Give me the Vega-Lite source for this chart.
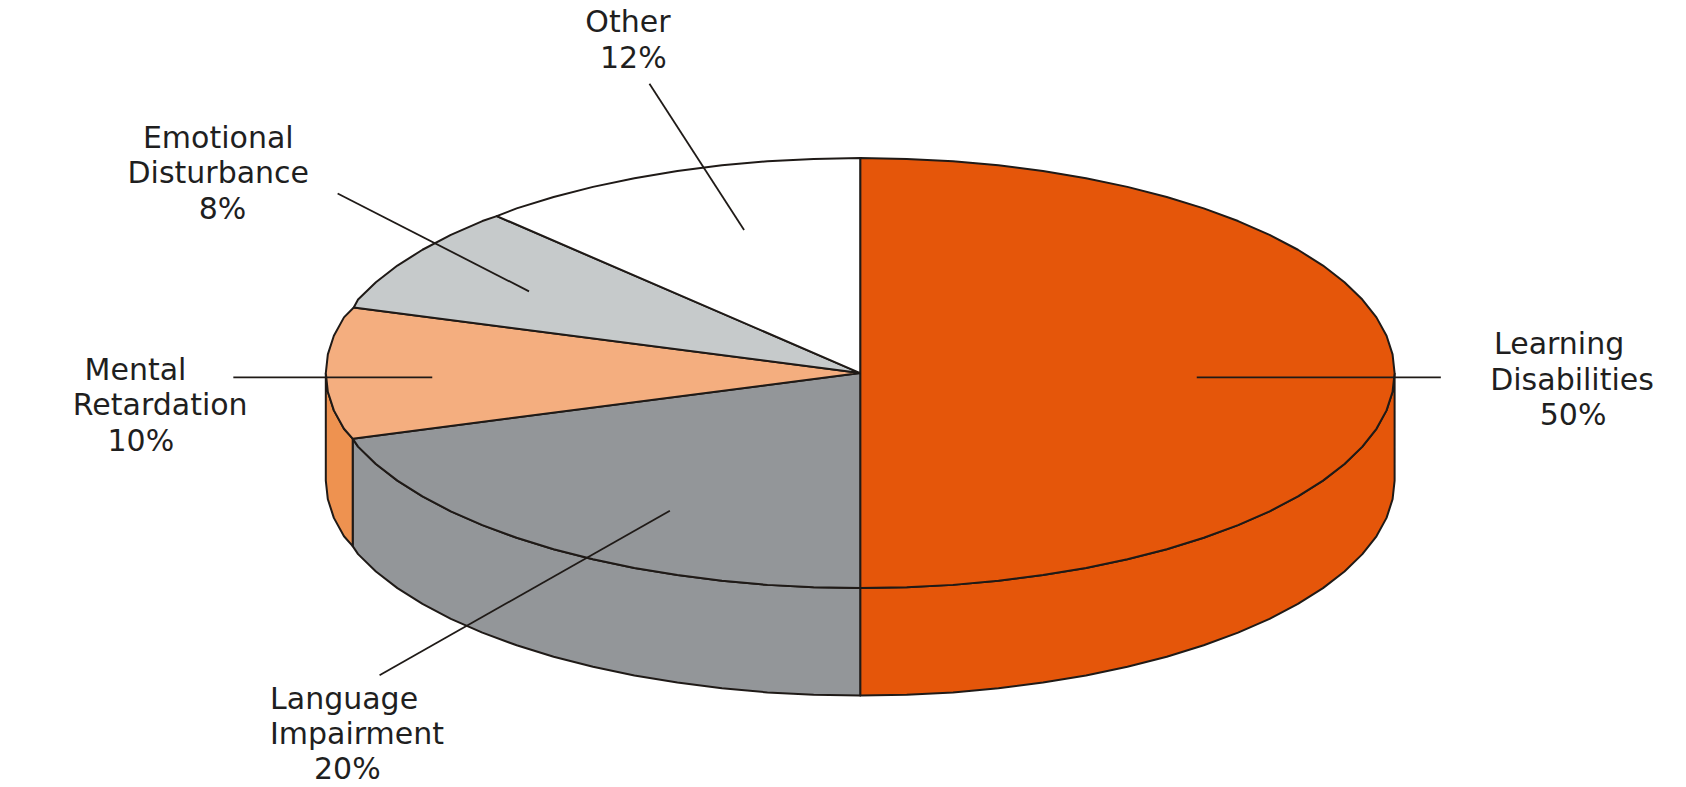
{"$schema":"https://vega.github.io/schema/vega-lite/v6.json","width":1686,"height":787,"padding":0,"autosize":{"type":"none"},"background":"#ffffff","config":{"view":{"stroke":null}},
"datasets":{
"side":[
{"p":"Learning Disabilities","x":1297,"y":347},{"p":"Learning Disabilities","x":1295.1,"y":364.4},{"p":"Learning Disabilities","x":1289.5,"y":381.7},{"p":"Learning Disabilities","x":1280.1,"y":398.8},{"p":"Learning Disabilities","x":1267,"y":415.4},{"p":"Learning Disabilities","x":1250.4,"y":431.5},{"p":"Learning Disabilities","x":1230.4,"y":447},{"p":"Learning Disabilities","x":1207.1,"y":461.7},{"p":"Learning Disabilities","x":1180.7,"y":475.6},{"p":"Learning Disabilities","x":1151.4,"y":488.4},{"p":"Learning Disabilities","x":1119.5,"y":500.2},{"p":"Learning Disabilities","x":1085.1,"y":510.8},{"p":"Learning Disabilities","x":1048.5,"y":520.2},{"p":"Learning Disabilities","x":1010,"y":528.3},{"p":"Learning Disabilities","x":970,"y":534.9},{"p":"Learning Disabilities","x":928.6,"y":540.2},{"p":"Learning Disabilities","x":886.3,"y":544},{"p":"Learning Disabilities","x":843.3,"y":546.2},{"p":"Learning Disabilities","x":800,"y":547},
{"p":"Learning Disabilities","x":800,"y":647},{"p":"Learning Disabilities","x":843.3,"y":646.2},{"p":"Learning Disabilities","x":886.3,"y":644},{"p":"Learning Disabilities","x":928.6,"y":640.2},{"p":"Learning Disabilities","x":970,"y":634.9},{"p":"Learning Disabilities","x":1010,"y":628.3},{"p":"Learning Disabilities","x":1048.5,"y":620.2},{"p":"Learning Disabilities","x":1085.1,"y":610.8},{"p":"Learning Disabilities","x":1119.5,"y":600.2},{"p":"Learning Disabilities","x":1151.4,"y":588.4},{"p":"Learning Disabilities","x":1180.7,"y":575.6},{"p":"Learning Disabilities","x":1207.1,"y":561.7},{"p":"Learning Disabilities","x":1230.4,"y":547},{"p":"Learning Disabilities","x":1250.4,"y":531.5},{"p":"Learning Disabilities","x":1267,"y":515.4},{"p":"Learning Disabilities","x":1280.1,"y":498.8},{"p":"Learning Disabilities","x":1289.5,"y":481.7},{"p":"Learning Disabilities","x":1295.1,"y":464.4},{"p":"Learning Disabilities","x":1297,"y":447},{"p":"Learning Disabilities","x":1297,"y":347},
{"p":"Language Impairment","x":800,"y":547},{"p":"Language Impairment","x":756.7,"y":546.2},{"p":"Language Impairment","x":713.7,"y":544},{"p":"Language Impairment","x":671.4,"y":540.2},{"p":"Language Impairment","x":630,"y":534.9},{"p":"Language Impairment","x":590,"y":528.3},{"p":"Language Impairment","x":551.5,"y":520.2},{"p":"Language Impairment","x":514.9,"y":510.8},{"p":"Language Impairment","x":480.5,"y":500.2},{"p":"Language Impairment","x":448.6,"y":488.4},{"p":"Language Impairment","x":419.3,"y":475.6},{"p":"Language Impairment","x":392.9,"y":461.7},{"p":"Language Impairment","x":369.6,"y":447},{"p":"Language Impairment","x":349.6,"y":431.5},{"p":"Language Impairment","x":333,"y":415.4},{"p":"Language Impairment","x":328,"y":408},
{"p":"Language Impairment","x":328,"y":508},{"p":"Language Impairment","x":333,"y":515.4},{"p":"Language Impairment","x":349.6,"y":531.5},{"p":"Language Impairment","x":369.6,"y":547},{"p":"Language Impairment","x":392.9,"y":561.7},{"p":"Language Impairment","x":419.3,"y":575.6},{"p":"Language Impairment","x":448.6,"y":588.4},{"p":"Language Impairment","x":480.5,"y":600.2},{"p":"Language Impairment","x":514.9,"y":610.8},{"p":"Language Impairment","x":551.5,"y":620.2},{"p":"Language Impairment","x":590,"y":628.3},{"p":"Language Impairment","x":630,"y":634.9},{"p":"Language Impairment","x":671.4,"y":640.2},{"p":"Language Impairment","x":713.7,"y":644},{"p":"Language Impairment","x":756.7,"y":646.2},{"p":"Language Impairment","x":800,"y":647},{"p":"Language Impairment","x":800,"y":547},
{"p":"Mental Retardation side","x":303,"y":347},{"p":"Mental Retardation side","x":304.9,"y":364.4},{"p":"Mental Retardation side","x":310.5,"y":381.7},{"p":"Mental Retardation side","x":319.9,"y":398.8},{"p":"Mental Retardation side","x":328,"y":408},{"p":"Mental Retardation side","x":328,"y":508},{"p":"Mental Retardation side","x":319.9,"y":498.8},{"p":"Mental Retardation side","x":310.5,"y":481.7},{"p":"Mental Retardation side","x":304.9,"y":464.4},{"p":"Mental Retardation side","x":303,"y":447},{"p":"Mental Retardation side","x":303,"y":347}
],
"face":[
{"p":"Learning Disabilities","x":800,"y":347},{"p":"Learning Disabilities","x":800,"y":147},{"p":"Learning Disabilities","x":843.3,"y":147.8},{"p":"Learning Disabilities","x":886.3,"y":150},{"p":"Learning Disabilities","x":928.6,"y":153.8},{"p":"Learning Disabilities","x":970,"y":159.1},{"p":"Learning Disabilities","x":1010,"y":165.7},{"p":"Learning Disabilities","x":1048.5,"y":173.8},{"p":"Learning Disabilities","x":1085.1,"y":183.2},{"p":"Learning Disabilities","x":1119.5,"y":193.8},{"p":"Learning Disabilities","x":1151.4,"y":205.6},{"p":"Learning Disabilities","x":1180.7,"y":218.4},{"p":"Learning Disabilities","x":1207.1,"y":232.3},{"p":"Learning Disabilities","x":1230.4,"y":247},{"p":"Learning Disabilities","x":1250.4,"y":262.5},{"p":"Learning Disabilities","x":1267,"y":278.6},{"p":"Learning Disabilities","x":1280.1,"y":295.2},{"p":"Learning Disabilities","x":1289.5,"y":312.3},{"p":"Learning Disabilities","x":1295.1,"y":329.6},{"p":"Learning Disabilities","x":1297,"y":347},{"p":"Learning Disabilities","x":1295.1,"y":364.4},{"p":"Learning Disabilities","x":1289.5,"y":381.7},{"p":"Learning Disabilities","x":1280.1,"y":398.8},{"p":"Learning Disabilities","x":1267,"y":415.4},{"p":"Learning Disabilities","x":1250.4,"y":431.5},{"p":"Learning Disabilities","x":1230.4,"y":447},{"p":"Learning Disabilities","x":1207.1,"y":461.7},{"p":"Learning Disabilities","x":1180.7,"y":475.6},{"p":"Learning Disabilities","x":1151.4,"y":488.4},{"p":"Learning Disabilities","x":1119.5,"y":500.2},{"p":"Learning Disabilities","x":1085.1,"y":510.8},{"p":"Learning Disabilities","x":1048.5,"y":520.2},{"p":"Learning Disabilities","x":1010,"y":528.3},{"p":"Learning Disabilities","x":970,"y":534.9},{"p":"Learning Disabilities","x":928.6,"y":540.2},{"p":"Learning Disabilities","x":886.3,"y":544},{"p":"Learning Disabilities","x":843.3,"y":546.2},{"p":"Learning Disabilities","x":800,"y":547},{"p":"Learning Disabilities","x":800,"y":347},
{"p":"Language Impairment","x":800,"y":347},{"p":"Language Impairment","x":800,"y":547},{"p":"Language Impairment","x":756.7,"y":546.2},{"p":"Language Impairment","x":713.7,"y":544},{"p":"Language Impairment","x":671.4,"y":540.2},{"p":"Language Impairment","x":630,"y":534.9},{"p":"Language Impairment","x":590,"y":528.3},{"p":"Language Impairment","x":551.5,"y":520.2},{"p":"Language Impairment","x":514.9,"y":510.8},{"p":"Language Impairment","x":480.5,"y":500.2},{"p":"Language Impairment","x":448.6,"y":488.4},{"p":"Language Impairment","x":419.3,"y":475.6},{"p":"Language Impairment","x":392.9,"y":461.7},{"p":"Language Impairment","x":369.6,"y":447},{"p":"Language Impairment","x":349.6,"y":431.5},{"p":"Language Impairment","x":333,"y":415.4},{"p":"Language Impairment","x":328,"y":408},{"p":"Language Impairment","x":800,"y":347},
{"p":"Mental Retardation","x":800,"y":347},{"p":"Mental Retardation","x":328,"y":408},{"p":"Mental Retardation","x":319.9,"y":398.8},{"p":"Mental Retardation","x":310.5,"y":381.7},{"p":"Mental Retardation","x":304.9,"y":364.4},{"p":"Mental Retardation","x":303,"y":347},{"p":"Mental Retardation","x":304.9,"y":329.6},{"p":"Mental Retardation","x":310.5,"y":312.3},{"p":"Mental Retardation","x":319.9,"y":295.2},{"p":"Mental Retardation","x":329,"y":286},{"p":"Mental Retardation","x":800,"y":347},
{"p":"Emotional Disturbance","x":800,"y":347},{"p":"Emotional Disturbance","x":329,"y":286},{"p":"Emotional Disturbance","x":333,"y":278.6},{"p":"Emotional Disturbance","x":349.6,"y":262.5},{"p":"Emotional Disturbance","x":369.6,"y":247},{"p":"Emotional Disturbance","x":392.9,"y":232.3},{"p":"Emotional Disturbance","x":419.3,"y":218.4},{"p":"Emotional Disturbance","x":448.6,"y":205.6},{"p":"Emotional Disturbance","x":462,"y":201},{"p":"Emotional Disturbance","x":800,"y":347},
{"p":"Other","x":800,"y":347},{"p":"Other","x":462,"y":201},{"p":"Other","x":480.5,"y":193.8},{"p":"Other","x":514.9,"y":183.2},{"p":"Other","x":551.5,"y":173.8},{"p":"Other","x":590,"y":165.7},{"p":"Other","x":630,"y":159.1},{"p":"Other","x":671.4,"y":153.8},{"p":"Other","x":713.7,"y":150},{"p":"Other","x":756.7,"y":147.8},{"p":"Other","x":800,"y":147},{"p":"Other","x":800,"y":347}
],
"leaders":[
{"k":"Other","x":604,"y":78},{"k":"Other","x":692,"y":214},
{"k":"Emotional","x":314,"y":180},{"k":"Emotional","x":492,"y":271},
{"k":"Mental","x":217,"y":351},{"k":"Mental","x":402,"y":351},
{"k":"Language","x":353,"y":628},{"k":"Language","x":623,"y":475},
{"k":"Learning","x":1113,"y":351},{"k":"Learning","x":1340,"y":351}
],
"labels":[
{"t":"Other","x":584,"y":21},{"t":"12%","x":589,"y":55},
{"t":"Emotional","x":203,"y":129},{"t":"Disturbance","x":203,"y":162},{"t":"8%","x":207,"y":195},
{"t":"Mental","x":126,"y":345},{"t":"Retardation","x":149,"y":378},{"t":"10%","x":131,"y":411},
{"t":"Language","x":320,"y":651},{"t":"Impairment","x":332,"y":684},{"t":"20%","x":323,"y":716},
{"t":"Learning","x":1450,"y":321},{"t":"Disabilities","x":1462,"y":354},{"t":"50%","x":1463,"y":387}
]},
"encoding":{
"x":{"field":"x","type":"quantitative","axis":null,"scale":{"domain":[0,1568],"nice":false,"zero":false}},
"y":{"field":"y","type":"quantitative","axis":null,"scale":{"domain":[732,0],"nice":false,"zero":false}}
},
"layer":[
{"data":{"name":"side"},"transform":[{"window":[{"op":"row_number","as":"seq"}]}],"mark":{"type":"line","stroke":"#1f1a17","strokeWidth":2,"strokeJoin":"round"},"encoding":{"order":{"field":"seq","type":"quantitative"},"detail":{"field":"p"},"fill":{"field":"p","type":"nominal","legend":null,"scale":{"domain":["Learning Disabilities","Language Impairment","Mental Retardation","Emotional Disturbance","Other","Mental Retardation side"],"range":["#e5560a","#939699","#f4ae7f","#c6cacb","#ffffff","#ee9250"]}}}},
{"data":{"name":"face"},"transform":[{"window":[{"op":"row_number","as":"seq"}]}],"mark":{"type":"line","stroke":"#1f1a17","strokeWidth":2,"strokeJoin":"round"},"encoding":{"order":{"field":"seq","type":"quantitative"},"detail":{"field":"p"},"fill":{"field":"p","type":"nominal","legend":null}}},
{"data":{"name":"leaders"},"transform":[{"window":[{"op":"row_number","as":"seq"}]}],"mark":{"type":"line","stroke":"#1f1a17","strokeWidth":1.8},"encoding":{"order":{"field":"seq","type":"quantitative"},"detail":{"field":"k"}}},
{"data":{"name":"labels"},"mark":{"type":"text","font":"DejaVu Sans","fontSize":30,"color":"#1f1f1f","align":"center","baseline":"middle"},"encoding":{"text":{"field":"t"}}}
]}
